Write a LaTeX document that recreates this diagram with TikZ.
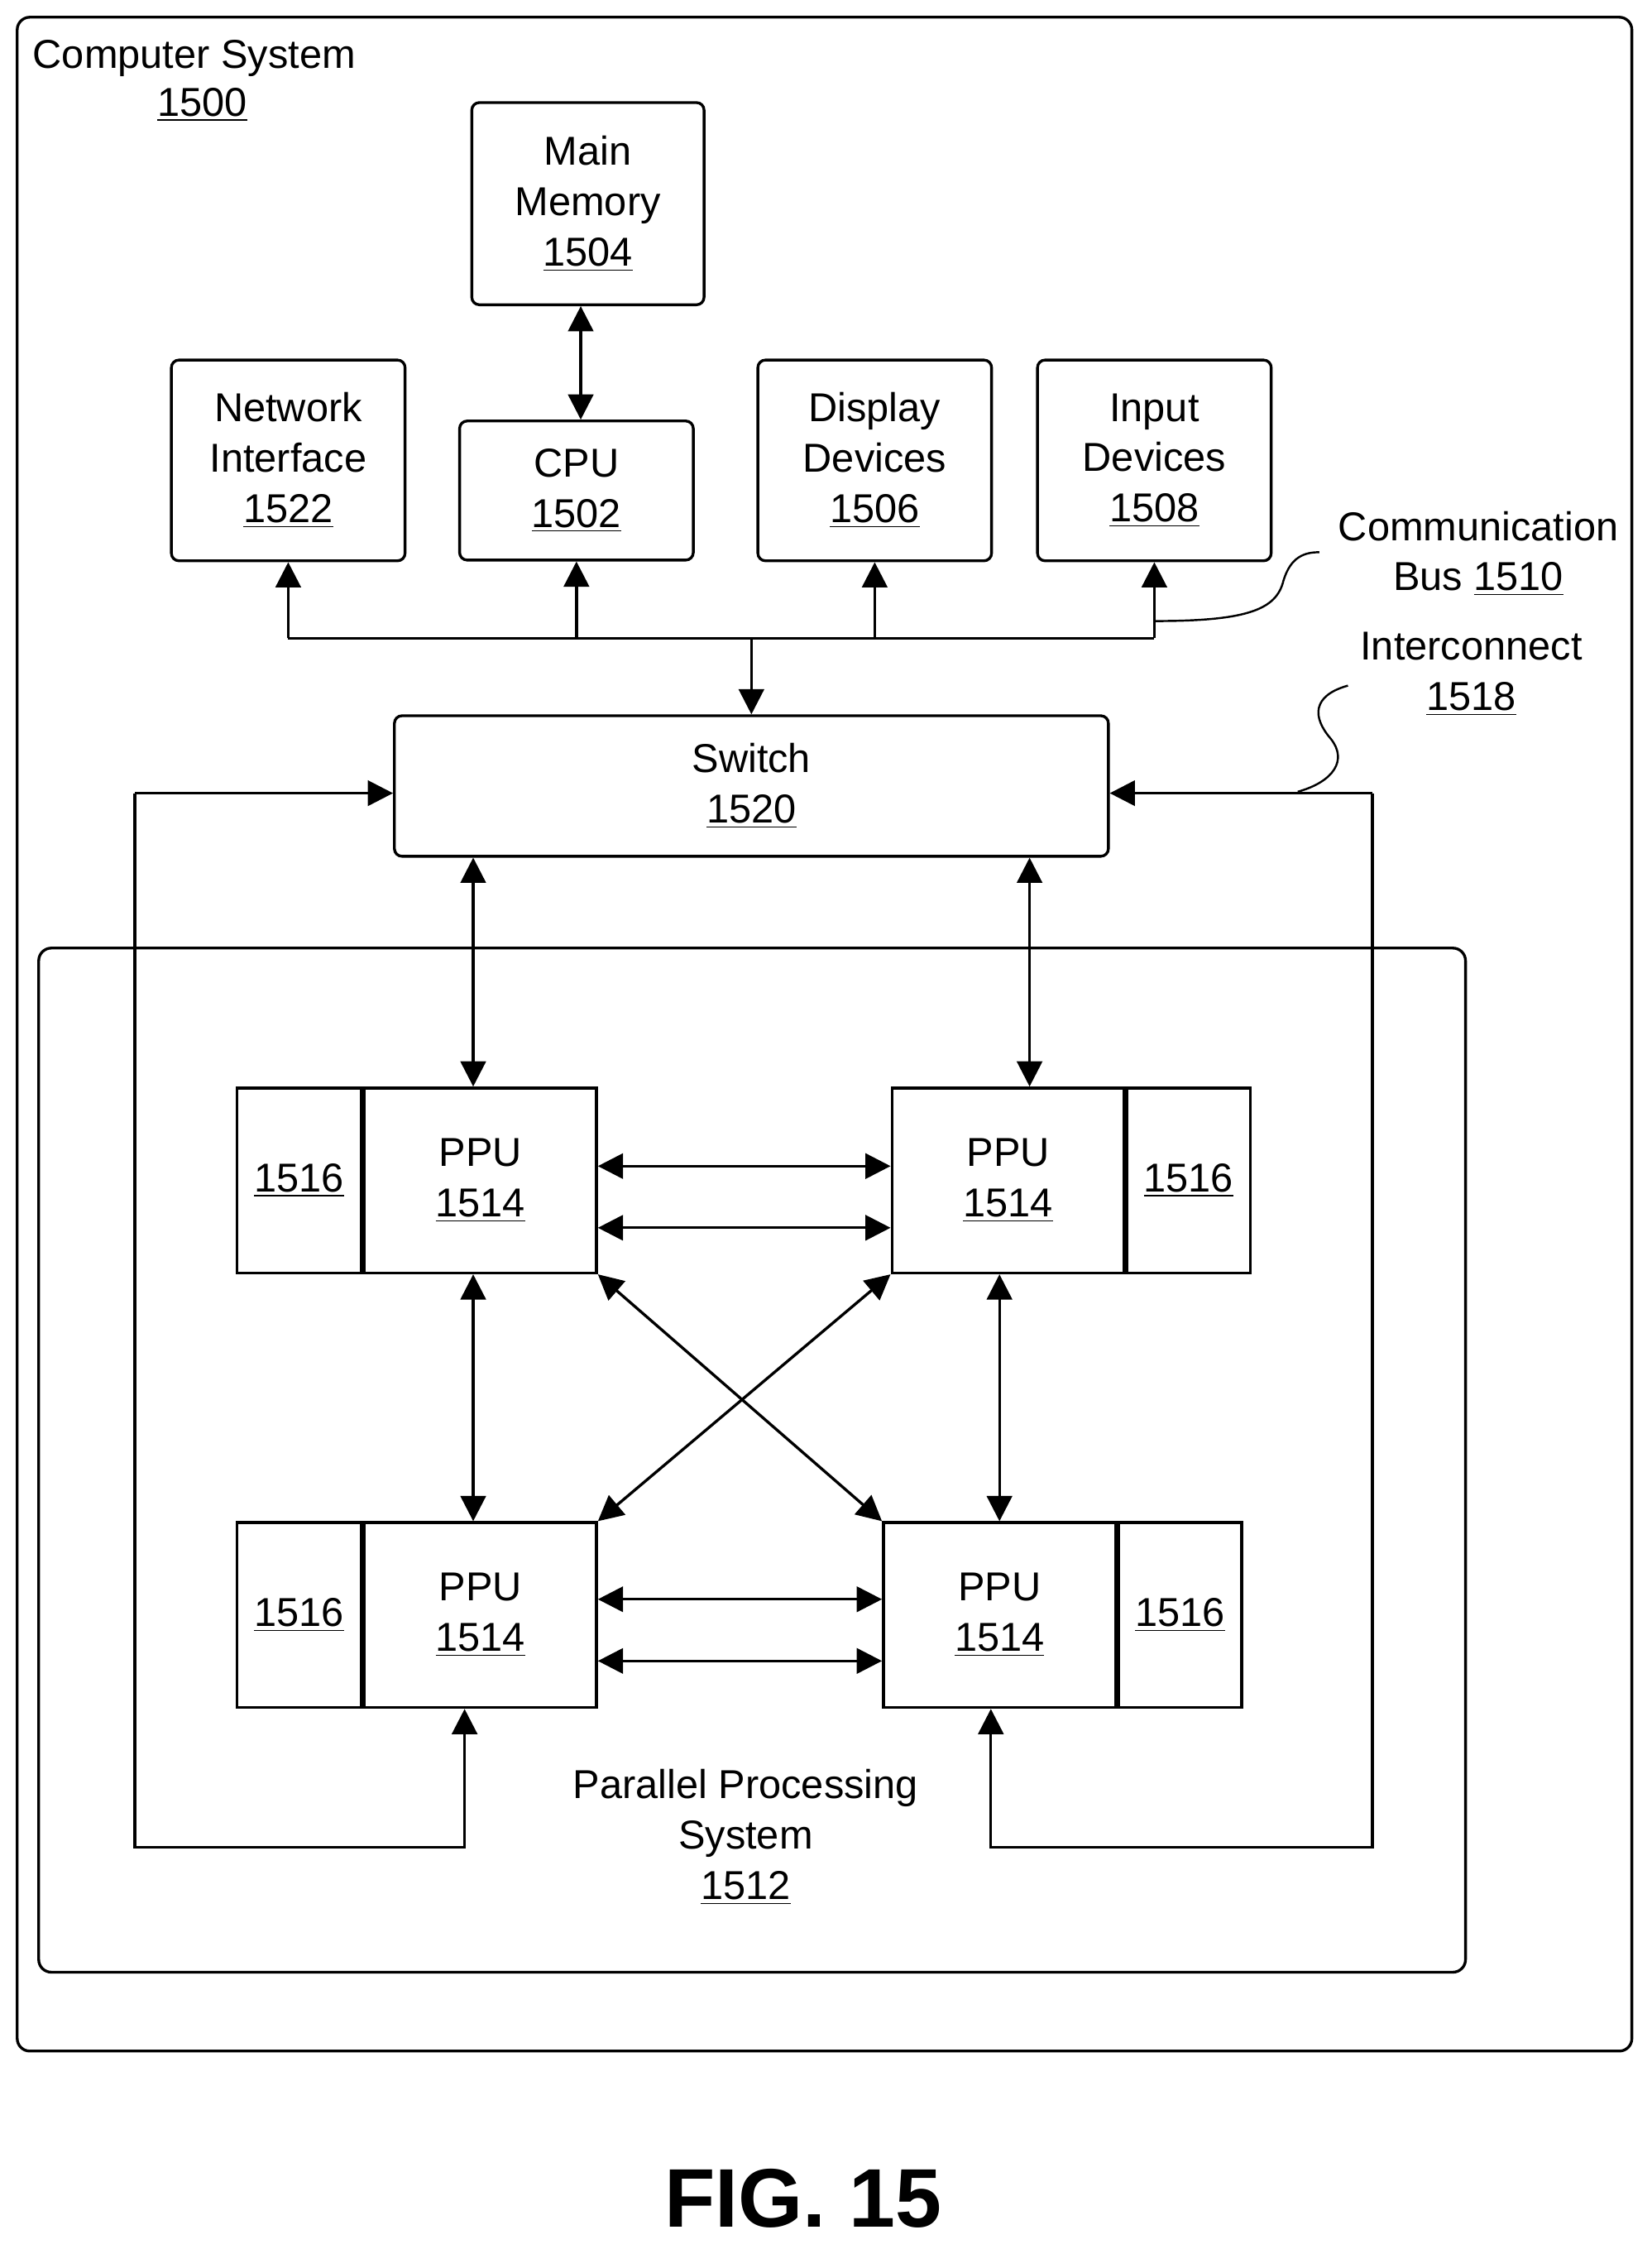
\documentclass[tikz,border=0pt]{standalone}
\usepackage{fontspec}
\setmainfont{Liberation Sans}
\usetikzlibrary{arrows.meta}
\tikzset{
  box/.style={draw,rounded corners=3pt,align=center,inner sep=0pt},
  sq/.style={draw,align=center,inner sep=0pt},
  arr/.style={-{Triangle[length=10pt,width=10pt]}},
  darr/.style={{Triangle[length=10pt,width=10pt]}-{Triangle[length=10pt,width=10pt]}},
  lbl/.style={align=center,inner sep=0pt}
}
\begin{document}
\begin{tikzpicture}[x=0.02cm,y=-0.02cm,line width=1.1pt,font=\fontsize{16}{20}\selectfont]
\useasboundingbox (0,0) rectangle (1152,1568);
% frames
\draw[rounded corners=5pt] (12,12) rectangle (1138,1430);
\draw[rounded corners=5pt] (27,661) rectangle (1022,1375);
\node[lbl,anchor=north west] (cs) at (22,27) {Computer System};
\node[lbl] (cs1) at (141,73) {\underline{1500}};
% upper boxes
\node[box,minimum width=3.24cm,minimum height=2.82cm] (mm) at (410,142) {Main\\Memory\\\underline{1504}};
\node[box,minimum width=3.26cm,minimum height=1.94cm] (cpu) at (402,342) {CPU\\\underline{1502}};
\node[box,minimum width=3.26cm,minimum height=2.8cm] (ni) at (201,321) {Network\\Interface\\\underline{1522}};
\node[box,minimum width=3.26cm,minimum height=2.8cm] (dd) at (610,321) {Display\\Devices\\\underline{1506}};
\node[box,minimum width=3.26cm,minimum height=2.8cm] (id) at (805,321) {Input\\Devices\\\underline{1508}};
\node[box,minimum width=9.96cm,minimum height=1.96cm] (sw) at (524,548) {Switch\\\underline{1520}};
% bus
\coordinate (b1) at (201,445);
\coordinate (b2) at (402,445);
\coordinate (b3) at (610,445);
\coordinate (b4) at (805,445);
\coordinate (bs) at (524,445);
\draw (b1) -- (b4);
\draw[arr] (b1) -- (ni.south);
\draw[arr] (b2) -- (cpu.south);
\draw[arr] (b3) -- (dd.south);
\draw[arr] (b4) -- (id.south);
\draw[arr] (bs) -- (sw.north);
\draw[darr] (mm.south -| 405,0) -- (cpu.north -| 405,0);
% labels
\node[lbl] (cb) at (1031,386) {Communication\\Bus \underline{1510}};
\draw[line width=0.8pt] (805,433) .. controls (870,433) and (890,425) .. (895,405) .. controls (900,388) and (910,385) .. (920,385);
\node[lbl] (ic) at (1026,470) {Interconnect\\\underline{1518}};
\draw[line width=0.8pt] (940,478) .. controls (915,485) and (915,500) .. (928,515) .. controls (940,530) and (930,545) .. (905,552);
% PPUs
\foreach \n/\x/\y in {tl/335/823,bl/335/1126}{
  \node[sq,minimum width=3.24cm,minimum height=2.58cm] (p\n) at (\x,\y) {PPU\\\underline{1514}};
  \node[sq,minimum width=1.74cm,minimum height=2.58cm,anchor=east] (m\n) at (p\n.west) {\underline{1516}};
}
\foreach \n/\x/\y in {tr/703/823,br/697/1126}{
  \node[sq,minimum width=3.24cm,minimum height=2.58cm] (p\n) at (\x,\y) {PPU\\\underline{1514}};
  \node[sq,minimum width=1.72cm,minimum height=2.58cm,anchor=west] (m\n) at (p\n.east) {\underline{1516}};
}
\node[lbl] (pps) at (520,1281) {Parallel Processing\\System\\\underline{1512}};
% switch links
\draw[darr] (sw.south -| 330,0) -- (ptl.north -| 330,0);
\draw[darr] (sw.south -| 718,0) -- (ptr.north -| 718,0);
% ppu links
\draw[darr] (ptl.east |- 0,813) -- (ptr.west |- 0,813);
\draw[darr] (ptl.east |- 0,856) -- (ptr.west |- 0,856);
\draw[darr] (pbl.east |- 0,1115) -- (pbr.west |- 0,1115);
\draw[darr] (pbl.east |- 0,1158) -- (pbr.west |- 0,1158);
\draw[darr] (ptl.south -| 330,0) -- (pbl.north -| 330,0);
\draw[darr] (ptr.south -| 697,0) -- (pbr.north -| 697,0);
\draw[darr] (ptl.south east) -- (pbr.north west);
\draw[darr] (ptr.south west) -- (pbl.north east);
% interconnect loops
\coordinate (l1) at (94,553);
\coordinate (l2) at (94,1288);
\coordinate (l3) at (324,1288);
\draw[arr] (l1) -- (sw.west |- l1);
\draw[arr] (l1) -- (l2) -- (l3) -- (pbl.south -| l3);
\coordinate (r1) at (957,553);
\coordinate (r2) at (957,1288);
\coordinate (r3) at (691,1288);
\draw[arr] (r1) -- (sw.east |- r1);
\draw[arr] (r1) -- (r2) -- (r3) -- (pbr.south -| r3);
\node[lbl,font=\fontsize{33}{38}\selectfont\bfseries] (fig) at (560,1533) {FIG. 15};
\end{tikzpicture}
\end{document}
